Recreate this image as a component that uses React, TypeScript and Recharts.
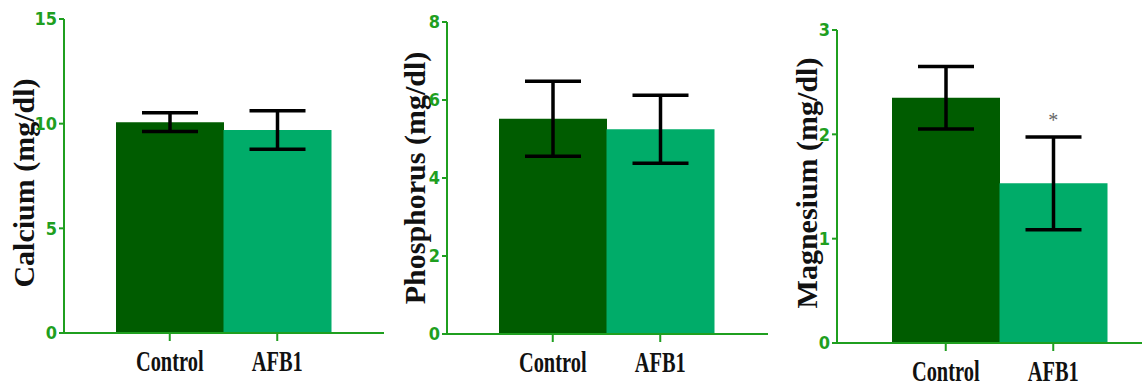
import React from "react";
import {
  Bar,
  BarChart,
  Cell,
  ErrorBar,
  ReferenceDot,
  XAxis,
  YAxis,
} from "recharts";

const groups = ["Control", "AFB1"];

const calciumMean = [10.07, 9.7];
const calciumSem = [0.45, 0.92];
const calciumTicks = [0, 5, 10, 15];

const phosphorusMean = [5.52, 5.25];
const phosphorusSem = [0.96, 0.87];
const phosphorusTicks = [0, 2, 4, 6, 8];

const magnesiumMean = [2.35, 1.53];
const magnesiumSem = [0.3, 0.445];
const magnesiumTicks = [0, 1, 2, 3];

const barColors = ["#005c00", "#00ac69"];
const axisGreen = "#1f9f1f";
const serif = "'Liberation Serif', 'Times New Roman', serif";
const narrow = "'Liberation Sans Narrow', 'DejaVu Sans Condensed', 'Liberation Sans', sans-serif";

function buildRows(means: number[], sems: number[]) {
  return groups.map((name, i) => ({ name, value: means[i], err: sems[i] }));
}

function GroupTick(props: any) {
  const { x, y, payload } = props;
  return (
    <g transform={`translate(${x},${y + 28}) scale(0.68,1)`}>
      <text
        x={0}
        y={0}
        textAnchor="middle"
        fontFamily={serif}
        fontWeight="bold"
        fontSize={30}
        fill="#111">
        {payload.value}
      </text>
    </g>
  );
}

interface PanelProps {
  left: number;
  width: number;
  top: number;
  bottom: number;
  axisWidth: number;
  padLeft: number;
  padRight: number;
  title: string;
  titleX: number;
  titleY: number;
  means: number[];
  sems: number[];
  ticks: number[];
  star?: number;
}

function Panel(p: PanelProps) {
  const data = buildRows(p.means, p.sems);
  const max = p.ticks[p.ticks.length - 1];
  return (
    <div style={{ position: "absolute", left: p.left, top: 0 }}>
      <BarChart
        width={p.width}
        height={387}
        data={data}
        margin={{ top: p.top, right: 0, left: 0, bottom: p.bottom }}
        barCategoryGap={0}
        barGap={0}>
        <XAxis
          dataKey="name"
          height={40}
          padding={{ left: p.padLeft, right: p.padRight }}
          axisLine={{ stroke: axisGreen, strokeWidth: 2 }}
          tickLine={{ stroke: axisGreen, strokeWidth: 2 }}
          tickSize={8}
          tick={<GroupTick />}
        />
        <YAxis
          width={p.axisWidth}
          domain={[0, max]}
          ticks={p.ticks}
          interval={0}
          axisLine={{ stroke: axisGreen, strokeWidth: 2 }}
          tickLine={{ stroke: axisGreen, strokeWidth: 2 }}
          tickSize={5}
          tickMargin={2}
          tick={{
            fill: axisGreen,
            fontSize: 18,
            fontWeight: "bold",
            fontFamily: narrow,
          }}
          label={() => (
            <text
              transform={`translate(${p.titleX},${p.titleY}) rotate(-90)`}
              textAnchor="middle"
              dominantBaseline="central"
              fontFamily={serif}
              fontWeight="bold"
              fontSize={30}
              fill="#111">
              {p.title}
            </text>
          )}
        />
        <Bar dataKey="value" isAnimationActive={false}>
          {data.map((row, i) => (
            <Cell key={row.name} fill={barColors[i]} />
          ))}
          <ErrorBar
            dataKey="err"
            width={28}
            stroke="#000"
            strokeWidth={3.5}
            direction="y"
          />
        </Bar>
        {p.star !== undefined && (
          <ReferenceDot
            x="AFB1"
            y={p.star}
            r={0}
            label={{
              value: "*",
              position: "center",
              fill: "#666",
              fontSize: 20,
              fontFamily: serif,
            }}
          />
        )}
      </BarChart>
    </div>
  );
}

export default function App() {
  return (
    <div
      style={{
        position: "absolute",
        left: 0,
        top: 0,
        width: 1142,
        height: 387,
        background: "#fff",
      }}>
      <Panel
        left={0}
        width={384}
        top={19}
        bottom={14}
        axisWidth={64}
        padLeft={52}
        padRight={53}
        title="Calcium (mg/dl)"
        titleX={23}
        titleY={183}
        means={calciumMean}
        sems={calciumSem}
        ticks={calciumTicks}
      />
      <Panel
        left={380}
        width={388}
        top={22}
        bottom={13}
        axisWidth={67}
        padLeft={52}
        padRight={54}
        title="Phosphorus (mg/dl)"
        titleX={34}
        titleY={178}
        means={phosphorusMean}
        sems={phosphorusSem}
        ticks={phosphorusTicks}
      />
      <Panel
        left={760}
        width={382}
        top={30}
        bottom={4}
        axisWidth={77}
        padLeft={55}
        padRight={35}
        title="Magnesium (mg/dl)"
        titleX={46}
        titleY={183}
        means={magnesiumMean}
        sems={magnesiumSem}
        ticks={magnesiumTicks}
        star={2.14}
      />
    </div>
  );
}
